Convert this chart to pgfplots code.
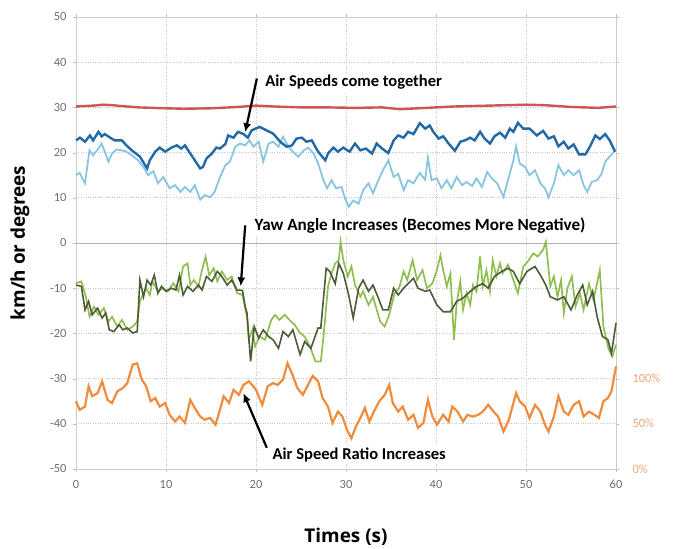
\documentclass[border=0pt]{standalone}
\usepackage{pgfplots}
\pgfplotsset{compat=1.18}
\usetikzlibrary{arrows.meta}
\usepackage{fontspec}
\setmainfont{Carlito}
\newfontfamily\titlefont{Open Sans}
\definecolor{cred}{RGB}{205,85,85}
\definecolor{cdblue}{RGB}{35,105,165}
\definecolor{clblue}{RGB}{135,198,222}
\definecolor{cdgreen}{RGB}{75,92,55}
\definecolor{clgreen}{RGB}{145,190,80}
\definecolor{corange}{RGB}{240,140,60}
\definecolor{corlab}{RGB}{240,165,115}
\definecolor{tickgray}{RGB}{110,110,110}
\begin{document}
\begin{tikzpicture}
\useasboundingbox (-76bp,-80bp) rectangle (610bp,469bp);
\begin{axis}[
  at={(0,0)}, anchor=south west,
  scale only axis, width=540bp, height=452bp,
  xmin=0, xmax=60, ymin=-50, ymax=50,
  xtick={0,10,20,30,40,50,60},
  ytick={-50,-40,-30,-20,-10,0,10,20,30,40,50},
  yticklabels={-50,-40,-30,-20,-10,0,10,20,30,40,50},
  xticklabels={0,10,20,30,40,50,60},
  grid=major,
  grid style={dotted, gray!45, line width=0.8bp},
  axis line style={gray!40, line width=0.8bp},
  tick style={gray!50},
  major tick length=3bp,
  tick align=outside,
  ticklabel style={text=tickgray, font=\fontsize{12.5}{14}\selectfont},
  yticklabel style={xshift=-3bp},
  xticklabel style={yshift=-5bp},
  xlabel={\titlefont\bfseries Times (s)},
  ylabel={\titlefont\bfseries km/h or degrees},
  xlabel style={at={(axis description cs:0.5,-0.1504)}, anchor=center, font=\fontsize{19}{21}\selectfont},
  ylabel style={at={(axis description cs:-0.1037,0.5)}, anchor=center, font=\fontsize{19}{21}\selectfont},
  clip=false,
]
\draw[gray!60, line width=1bp] (axis cs:0,0) -- (axis cs:60,0);

% red
\addplot[cred, line width=2.4bp, no marks] coordinates {
(0,30.2)(1,30.3)(2,30.4)(3,30.6)(4,30.5)(5,30.3)(7,30.0)(8.5,29.9)(10,29.8)(12,29.7)(15,29.8)(18,30.1)(20,30.4)(22,30.2)(25,30.0)(28,30.0)(31,29.9)(34,30.0)(36,29.6)(38,29.8)(40,30.0)(42,30.2)(46,30.4)(50,30.6)(52,30.5)(55,30.1)(58,29.9)(60,30.2)};

% light blue
\addplot[clblue, line width=1.8bp, no marks] coordinates {
(0,15)(0.4,15.5)(1,13.2)(1.5,20.5)(1.9,19.4)(2.5,20.9)(2.85,22)(3.2,20.2)(3.6,18)(4,19.8)(4.5,20.7)(5.1,20.5)(5.6,20.2)(6.2,19.4)(6.9,18.3)(7.5,16.8)(8,15)(8.6,15.9)(9.1,13.2)(9.7,14.6)(10.4,12.1)(11,12.8)(11.6,11.3)(12.1,12.4)(12.7,11.3)(13.2,12.8)(13.8,9.6)(14.3,10.6)(14.9,10.1)(15.4,11.3)(16,14.6)(16.6,17.2)(17.1,18)(17.7,21.3)(18.2,22)(18.8,21.6)(19.3,22.7)(19.7,21.3)(20.3,22.4)(20.8,18)(21.4,22)(21.9,22.4)(22.5,21.3)(23,23.5)(23.6,21.3)(24.1,20.2)(24.7,19.1)(25.3,20.5)(25.8,21.1)(26.4,19.8)(26.9,17.6)(27.5,13.9)(27.9,12.1)(28.4,13.9)(28.9,12.1)(29.5,12.4)(29.9,9.8)(30.3,8)(30.8,9.4)(31.4,8.7)(31.9,11.7)(32.5,13.2)(33,11)(33.6,13.9)(34.1,16.1)(34.7,18.3)(35.3,14.6)(35.8,15.3)(36.4,11.7)(36.9,13.9)(37.5,13.2)(38.2,15.5)(38.8,14)(39.1,18.9)(39.5,13.9)(40.1,14.3)(40.6,12.1)(41.2,13.9)(41.7,12.1)(42.3,14.6)(42.9,12.8)(43.4,13.5)(44,12.6)(44.5,14.3)(45.1,12.4)(45.7,15.7)(46.2,14.3)(46.8,13.2)(47.5,10.2)(48,13.9)(48.6,18.3)(48.9,21.4)(49.3,17.6)(49.9,16.8)(50.4,15)(51,16.1)(51.6,13.2)(52.1,12.1)(52.5,10.1)(53.1,13.2)(53.6,17.2)(54.2,15)(54.7,16.1)(55.3,15)(55.9,16.1)(56.4,12.8)(56.8,11.3)(57.3,13.5)(57.9,13.9)(58.4,15.3)(58.8,18)(59.3,19.1)(59.9,20.5)};

% dark blue
\addplot[cdblue, line width=2.4bp, no marks] coordinates {
(0,22.7)(0.44,23.3)(1,22.4)(1.55,23.8)(1.9,22.7)(2.5,24.6)(2.85,23.6)(3.2,24.1)(3.8,23.3)(4.3,22.7)(5.1,22.7)(5.6,21.6)(6.2,20.5)(7.1,19.1)(7.9,16.5)(8.2,18.3)(8.8,20.2)(9.3,21.1)(9.9,20.2)(10.6,21.1)(11.2,21.6)(11.7,20.9)(12.1,21.6)(12.7,19.8)(13.2,18.3)(13.8,16.5)(14.1,16.8)(14.5,18.7)(15.1,19.8)(15.6,21.1)(16,20.9)(16.6,21.9)(16.9,23.8)(17.5,23.3)(18,24.6)(18.6,24.1)(19.1,23.3)(19.5,24.9)(20.4,25.7)(21.2,24.9)(21.9,24.2)(22.7,22.4)(23.4,21.3)(24,21.6)(24.5,23.1)(25.1,23.3)(25.6,22.4)(26.2,22.7)(26.9,20.2)(27.7,18.3)(28,19.8)(28.6,21.1)(29.1,20.2)(29.7,21.1)(30.4,20.2)(31,22)(31.6,20.5)(32.2,20.9)(32.9,19.8)(33.4,22)(34,20.9)(34.7,19.9)(35.3,22.7)(35.8,23.8)(36.4,23.3)(36.9,24.6)(37.5,24.1)(38.2,26.5)(38.8,25.3)(39.3,26)(39.7,24.6)(40.3,23.1)(40.8,23.6)(41.4,22)(42.1,20.4)(42.7,22.4)(43.2,22.7)(43.8,23.3)(44.3,22.7)(44.9,24.6)(45.4,23.1)(46,22)(46.5,23.6)(47.1,24.4)(47.7,23.3)(48.2,25.3)(48.6,24.6)(49.1,26.6)(49.7,25.3)(50.4,25.3)(51.2,23.8)(51.9,24.8)(52.5,23.1)(53.1,23.6)(53.6,21.4)(54.2,22.4)(54.7,20.9)(55.3,21.8)(55.9,19.6)(56.6,19.6)(57.1,21.3)(57.7,23.8)(58.2,23)(58.8,24.1)(59.3,22.7)(59.9,20.2)};

% light green
\addplot[clgreen, line width=1.7bp, no marks] coordinates {
(0,-8.9)(0.6,-8.5)(1.1,-11.9)(1.5,-16.3)(2,-14.1)(2.5,-15.9)(3.1,-14.4)(3.6,-17.4)(4,-16.3)(4.6,-18.5)(5.1,-17)(5.7,-19.2)(6.3,-18.5)(6.8,-17.4)(7.1,-12.9)(7.8,-10)(8.2,-11.5)(8.5,-8.5)(9.1,-10.7)(9.7,-10)(10.2,-10.7)(10.8,-8.9)(11.4,-10.7)(11.9,-5.2)(12.4,-4.5)(12.7,-9.3)(13.1,-8.2)(13.6,-9.6)(14,-6)(14.4,-3)(14.8,-7.1)(15.3,-5.6)(15.7,-8.5)(16.2,-6.3)(16.8,-8.2)(17.3,-7.4)(17.9,-11.1)(18.5,-11.5)(19,-16.3)(19.2,-21.4)(19.6,-19.2)(19.9,-22.9)(20.4,-20.7)(21,-21.4)(21.7,-17)(22.1,-15.9)(22.6,-17)(23.2,-15.9)(23.7,-17)(24.3,-18.1)(24.9,-19.9)(25.4,-20.7)(26,-22.9)(26.6,-26.2)(27.2,-26.2)(27.5,-20.7)(28,-9.6)(28.4,-6.7)(28.8,-4.5)(29.2,-3.8)(29.4,0.3)(29.7,-3.8)(30.2,-7.4)(30.6,-5.2)(31,-9.3)(31.6,-11.9)(31.9,-10.7)(32.5,-13.7)(33,-11.9)(33.8,-17.4)(34.3,-18.5)(34.8,-15.9)(35.4,-11.1)(35.9,-10)(36.4,-6.3)(36.8,-8.2)(37.4,-3.8)(37.9,-8.2)(38.5,-6)(39,-10)(39.6,-8.9)(40.1,-6)(40.5,-2.7)(40.8,-6)(41.2,-9.6)(41.6,-6.7)(42,-21.4)(42.3,-13.3)(42.7,-8.5)(43,-14.8)(43.4,-11.1)(43.8,-13.7)(44.1,-9.3)(44.5,-10.7)(44.9,-3)(45.2,-9.6)(45.6,-6)(46,-10.7)(46.3,-3.8)(46.7,-7.4)(47.1,-4.5)(47.4,-6.7)(48,-4.8)(48.6,-8.2)(49.1,-11.1)(49.7,-5.2)(50.2,-4.1)(50.8,-2.3)(51.3,-3)(51.9,-1.5)(52.2,0.3)(52.7,-9.6)(53.1,-7.4)(53.5,-11.9)(53.9,-8.2)(54.2,-15.5)(54.6,-10)(55.1,-7.4)(55.5,-14.1)(56,-11.1)(56.4,-14.8)(57,-9)(57.5,-12.6)(58.2,-6)(58.6,-18.5)(59.2,-23.6)(59.6,-25.1)(60,-22.5)};

% dark green
\addplot[cdgreen, line width=1.6bp, no marks] coordinates {
(0,-9.3)(0.6,-9.6)(1,-14.8)(1.4,-12.9)(1.8,-15.9)(2.4,-14.4)(2.9,-16.6)(3.3,-15.5)(3.7,-19.2)(4.2,-19.6)(4.8,-18.1)(5.2,-19.2)(5.7,-18.8)(6.3,-19.9)(6.8,-19.6)(7.1,-8.2)(7.5,-11.9)(7.9,-8.2)(8.3,-9.3)(8.7,-7.1)(9.1,-11.1)(9.5,-9.6)(10,-10.7)(10.6,-10)(11.1,-10.4)(11.5,-7.1)(11.9,-11.5)(12.4,-9.6)(13,-10.7)(13.6,-9.3)(14,-10.4)(14.5,-7.4)(15.1,-8.5)(15.7,-6.3)(16.2,-7.4)(16.8,-9.3)(17.3,-8.2)(17.9,-10.4)(18.5,-10.5)(18.8,-14.1)(19,-15.5)(19.4,-26.2)(19.8,-18.5)(20.3,-21)(20.8,-19.2)(21.4,-20.7)(21.9,-21.4)(22.5,-23.3)(23,-19.6)(23.6,-20.7)(24.1,-19.2)(24.9,-24.7)(25.4,-21.8)(26.1,-23.3)(26.9,-18.8)(27.2,-18.8)(27.8,-5.6)(28.2,-6.3)(28.8,-9)(29.2,-4.5)(29.7,-6.7)(30.3,-11.5)(30.8,-16.6)(31.4,-10)(31.9,-8.2)(32.5,-10.7)(33,-9.3)(33.6,-12.2)(34.1,-14.8)(34.7,-14.8)(35.3,-10)(35.8,-11.5)(36.4,-10)(36.9,-9)(37.5,-7.8)(38,-10)(38.8,-10.7)(39.3,-10.4)(40.1,-13.7)(40.8,-15.2)(41.6,-15.2)(42.3,-12.9)(43,-12.2)(43.8,-10.7)(44.5,-9.6)(45.2,-9)(45.8,-10)(46.5,-7.4)(47.3,-6.3)(48,-5.6)(48.6,-6.3)(49.3,-9)(50.1,-6.3)(51,-5.2)(51.6,-7.1)(52.2,-9.3)(52.7,-11.9)(53.5,-12.6)(54.2,-11.9)(55,-14.8)(55.7,-11.5)(56.3,-9.3)(56.8,-13.7)(57.4,-10.7)(57.9,-16.3)(58.5,-20.7)(59.1,-21.4)(59.5,-24.4)(60,-17.7)};

% orange
\addplot[corange, line width=2.2bp, no marks] coordinates {
(0,-35)(0.4,-36.9)(1,-36.2)(1.4,-31.7)(1.8,-33.9)(2.4,-33.2)(2.9,-30.6)(3.5,-34.7)(4,-35.4)(4.6,-32.8)(5.2,-32.1)(5.7,-31)(6.3,-26.9)(6.8,-26.6)(7.3,-30.2)(7.8,-31.7)(8.3,-35)(8.8,-34.3)(9.3,-36.2)(9.9,-35.4)(10.4,-38)(11,-39.5)(11.5,-38.4)(12.1,-39.8)(12.7,-34.7)(13.2,-36.5)(13.8,-38.4)(14.3,-39.1)(14.9,-38.7)(15.5,-40.2)(16,-36.9)(16.4,-33.9)(17,-35.4)(17.5,-32.5)(18.1,-33.6)(18.6,-31.4)(19.2,-30.6)(19.7,-31.7)(20,-32.5)(20.7,-35.8)(21.3,-31.7)(21.9,-31)(22.4,-31.4)(23,-30.2)(23.5,-26.6)(24.1,-29.4)(24.6,-32.1)(25.2,-33.6)(25.7,-31.7)(26.3,-29.4)(26.9,-30.6)(27.4,-34.3)(28,-36.2)(28.5,-39.8)(29.1,-37.3)(29.6,-38.4)(30.1,-41.3)(30.6,-43.2)(31.1,-40.6)(31.6,-38.7)(32.1,-36.5)(32.6,-39.5)(33.1,-37.3)(33.7,-35)(34.3,-33.6)(34.8,-31.4)(35.2,-35.4)(35.8,-37.3)(36.3,-36.2)(36.9,-39.1)(37.5,-38)(38,-40.9)(38.6,-39.8)(39.1,-34.7)(39.6,-38.4)(40.1,-40.2)(40.8,-38)(41.4,-39.5)(41.8,-36.2)(42.4,-37.3)(43,-39.5)(43.5,-38)(44.1,-38.4)(44.7,-38)(45.2,-37.3)(45.8,-35.8)(46.4,-37.3)(46.9,-38.4)(47.5,-41.7)(48.1,-39.1)(48.6,-35.4)(48.9,-33.2)(49.3,-35)(49.9,-36.2)(50.4,-38.7)(51,-35.8)(51.6,-37.3)(52.1,-40.2)(52.5,-41.7)(53.1,-38.4)(53.6,-33.9)(54.2,-37.3)(54.7,-38)(55.3,-35.8)(55.9,-35)(56.4,-38.4)(57,-37.3)(57.6,-38)(58.1,-38.7)(58.6,-35)(59.1,-34.3)(59.5,-32.8)(60,-27.3)};

% right-hand percentage labels
\node[anchor=west, text=corlab, font=\fontsize{12.5}{14}\selectfont, xshift=13bp] at (axis cs:60,-30) {100\%};
\node[anchor=west, text=corlab, font=\fontsize{12.5}{14}\selectfont, xshift=13bp] at (axis cs:60,-40) {50\%};
\node[anchor=west, text=corlab, font=\fontsize{12.5}{14}\selectfont, xshift=13bp] at (axis cs:60,-50) {0\%};

% annotations
\node[anchor=west, fill=white, inner sep=2bp, font=\fontsize{16.6}{18}\selectfont\bfseries] at (axis cs:20.8,35.5) {Air Speeds come together};
\node[anchor=west, fill=white, inner sep=2bp, font=\fontsize{17.2}{18}\selectfont\bfseries] at (axis cs:19.6,3.75) {Yaw Angle Increases (Becomes More Negative)};
\node[anchor=west, fill=white, inner sep=2bp, font=\fontsize{16.6}{18}\selectfont\bfseries] at (axis cs:21.6,-46.8) {Air Speed Ratio Increases};
\draw[black, line width=2.2bp, -{Latex[length=9bp,width=8bp]}] (axis cs:20.1,36.4) -- (axis cs:18.8,24.5);
\draw[black, line width=2.2bp, -{Latex[length=9bp,width=8bp]}] (axis cs:18.8,3.9) -- (axis cs:18.3,-9.6);
\draw[black, line width=2.2bp, -{Latex[length=9bp,width=8bp]}] (axis cs:21.2,-45.3) -- (axis cs:18.6,-33.2);
\end{axis}
\end{tikzpicture}
\end{document}
